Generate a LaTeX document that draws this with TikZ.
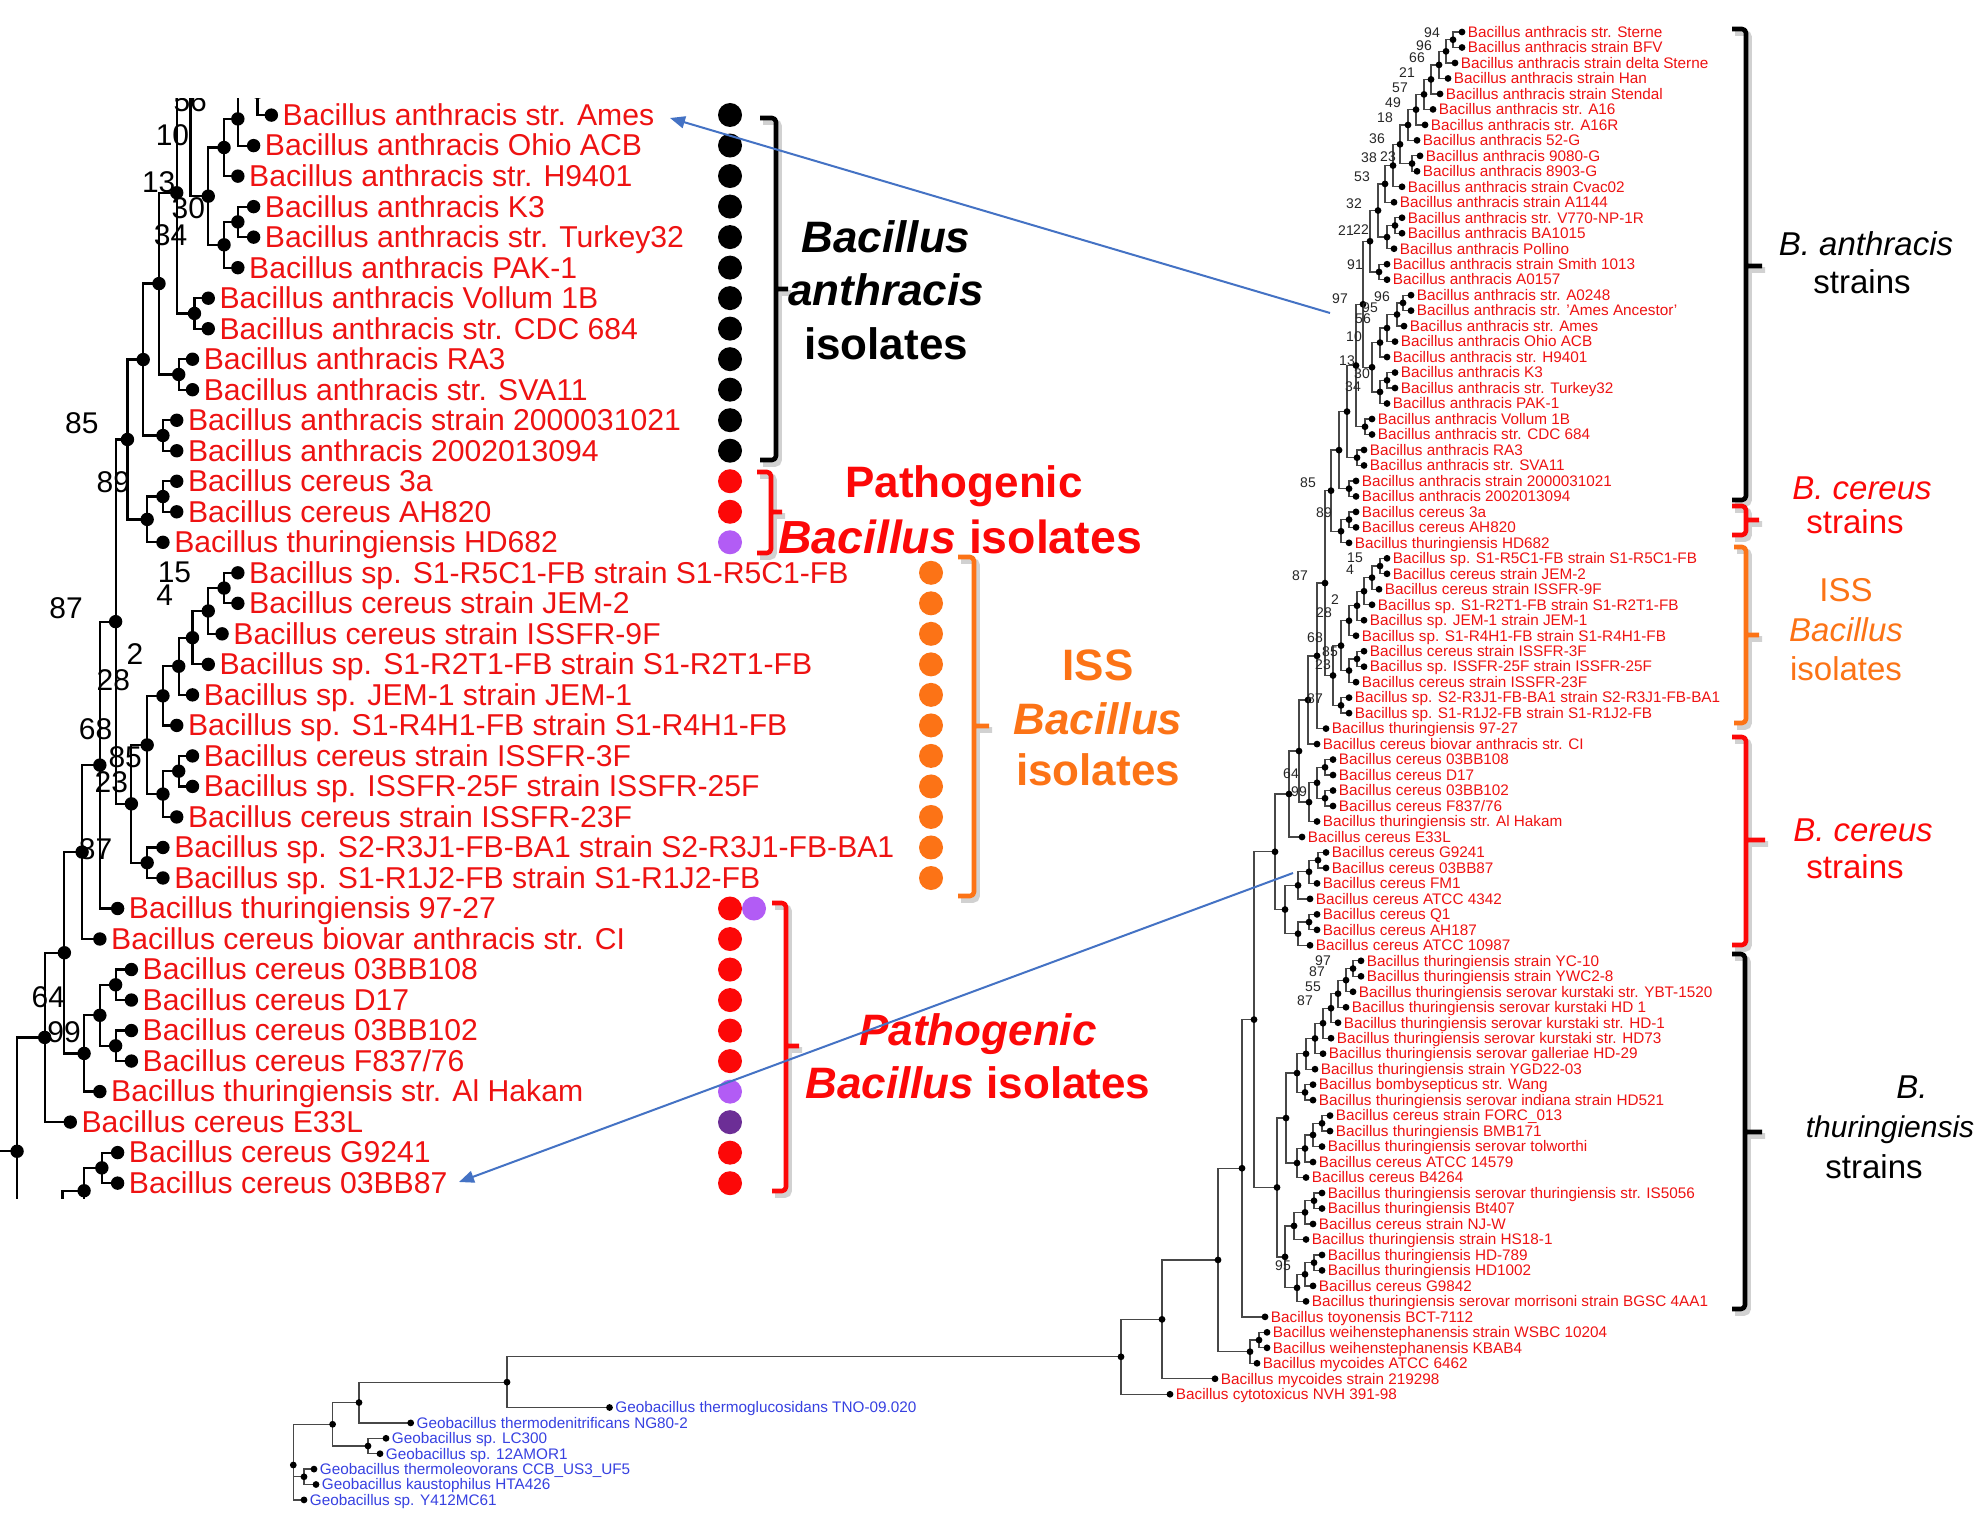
\documentclass[tikz,border=0pt]{standalone}
\usepackage{fontspec}
\setmainfont{Liberation Sans}
\usetikzlibrary{arrows.meta,calc}
\definecolor{treered}{RGB}{238,18,18}
\definecolor{bigred}{RGB}{252,8,8}
\definecolor{geoblue}{RGB}{55,65,225}
\definecolor{issorange}{RGB}{252,115,22}
\definecolor{lpurple}{RGB}{178,92,245}
\definecolor{dpurple}{RGB}{108,46,150}
\definecolor{arrblue}{RGB}{68,114,196}

\newif\ifLcopy
\newif\ifLshow

\tikzset{
  branch/.style={draw=black!72, line width=0.65pt},
  tdot/.style={circle, fill=black, inner sep=0pt, minimum size=3.4pt},
  leaftxt/.style={font=\fontsize{7.65pt}{9pt}\selectfont, text=treered, inner sep=0pt, anchor=base west},
  bslab/.style={font=\fontsize{7pt}{8pt}\selectfont, text=black!85, inner sep=0pt},
  cdot/.style={circle, inner sep=0pt, minimum size=12pt, draw=none},
  brk/.style={line width=2.3pt, rounded corners=2pt, line join=round},
  brkshadow/.style={line width=2.8pt, rounded corners=2pt, draw=black, opacity=0.18},
  biglab/.style={font=\fontsize{22pt}{26pt}\selectfont\bfseries, inner sep=0pt, anchor=base},
  sidelab/.style={font=\fontsize{16.5pt}{19pt}\selectfont, inner sep=0pt, anchor=base},
  bluearr/.style={draw=arrblue, line width=1pt, -{Triangle[length=7.5pt,width=6pt]}}
}

% leaf: name, row, x, text
\newcommand\TLeaf[4]{%
  \pgfmathsetmacro\tyv{32+(#2-1)*15.48}%
  \expandafter\xdef\csname tyy-#1\endcsname{\tyv}%
  \expandafter\xdef\csname txx-#1\endcsname{#3}%
  \pgfmathsetmacro\txv{#3+5.5}\pgfmathsetmacro\tyb{\tyv+5.3}%
  \coordinate (#1) at (#3,\tyv);%
  \Lshowtrue
  \ifLcopy\ifnum#2<20 \Lshowfalse\fi\ifnum#2>55 \Lshowfalse\fi\fi
  \ifLshow\node[leaftxt] (#1t) at (\txv,\tyb) {#4};\fi
}
% leaf with explicit y
\newcommand\GLeaf[4]{%
  \expandafter\xdef\csname tyy-#1\endcsname{#3}%
  \expandafter\xdef\csname txx-#1\endcsname{#2}%
  \pgfmathsetmacro\txv{#2+5.5}\pgfmathsetmacro\tyb{#3+5.3}%
  \coordinate (#1) at (#2,#3);%
  \node[leaftxt, text=geoblue] (#1t) at (\txv,\tyb) {#4};%
}
% internal node: name, x, child1, child2
\newcommand\TNode[4]{%
  \edef\tmpa{\csname tyy-#3\endcsname}\edef\tmpb{\csname tyy-#4\endcsname}%
  \pgfmathsetmacro\tyv{(\tmpa+\tmpb)/2}%
  \expandafter\xdef\csname tyy-#1\endcsname{\tyv}%
  \expandafter\xdef\csname txx-#1\endcsname{#2}%
  \coordinate (#1) at (#2,\tyv);%
  \draw[branch] (#3) -| (#1) |- (#4);%
  \node[tdot] at (#3) {};\node[tdot] at (#4) {};%
}
% bootstrap label: node, text, dx, dy
\newcommand\TBoot[4]{%
  \edef\tmpa{\csname txx-#1\endcsname}\edef\tmpb{\csname tyy-#1\endcsname}%
  \pgfmathsetmacro\bxv{\tmpa+(#3)}\pgfmathsetmacro\byv{\tmpb+(#4)}%
  \Lshowtrue
  \ifLcopy\pgfmathtruncatemacro\bvis{(\byv>312)&&(\byv<880)}\ifnum\bvis=0 \Lshowfalse\fi\fi
  \ifLshow\node[bslab] (#1b) at (\bxv,\byv) {#2};\fi
}
% bracket: color, xleft, xvert, ytop, ybot, ytick, xtick
\newcommand\Brkt[7]{%
  \draw[brkshadow, shift={(3,4)}] (#2,#4) -- (#3,#4) -- (#3,#5) -- (#2,#5) (#3,#6) -- (#7,#6);%
  \draw[brk, draw=#1] (#2,#4) -- (#3,#4) -- (#3,#5) -- (#2,#5) (#3,#6) -- (#7,#6);%
}

\newcommand\BacTree{%
\TLeaf{r1}{1}{1462}{Bacillus anthracis str. Sterne}
\TLeaf{r2}{2}{1462}{Bacillus anthracis strain BFV}
\TLeaf{r3}{3}{1455}{Bacillus anthracis strain delta Sterne}
\TLeaf{r4}{4}{1448}{Bacillus anthracis strain Han}
\TLeaf{r5}{5}{1440}{Bacillus anthracis strain Stendal}
\TLeaf{r6}{6}{1433}{Bacillus anthracis str. A16}
\TLeaf{r7}{7}{1425}{Bacillus anthracis str. A16R}
\TLeaf{r8}{8}{1417}{Bacillus anthracis 52-G}
\TLeaf{r9}{9}{1420}{Bacillus anthracis 9080-G}
\TLeaf{r10}{10}{1417}{Bacillus anthracis 8903-G}
\TLeaf{r11}{11}{1402}{Bacillus anthracis strain Cvac02}
\TLeaf{r12}{12}{1394}{Bacillus anthracis strain A1144}
\TLeaf{r13}{13}{1402}{Bacillus anthracis str. V770-NP-1R}
\TLeaf{r14}{14}{1402}{Bacillus anthracis BA1015}
\TLeaf{r15}{15}{1394}{Bacillus anthracis Pollino}
\TLeaf{r16}{16}{1387}{Bacillus anthracis strain Smith 1013}
\TLeaf{r17}{17}{1387}{Bacillus anthracis A0157}
\TLeaf{r18}{18}{1411}{Bacillus anthracis str. A0248}
\TLeaf{r19}{19}{1411}{Bacillus anthracis str. 'Ames Ancestor'}
\TLeaf{r20}{20}{1404}{Bacillus anthracis str. Ames}
\TLeaf{r21}{21}{1395}{Bacillus anthracis Ohio ACB}
\TLeaf{r22}{22}{1387}{Bacillus anthracis str. H9401}
\TLeaf{r23}{23}{1395}{Bacillus anthracis K3}
\TLeaf{r24}{24}{1395}{Bacillus anthracis str. Turkey32}
\TLeaf{r25}{25}{1387}{Bacillus anthracis PAK-1}
\TLeaf{r26}{26}{1372}{Bacillus anthracis Vollum 1B}
\TLeaf{r27}{27}{1372}{Bacillus anthracis str. CDC 684}
\TLeaf{r28}{28}{1364}{Bacillus anthracis RA3}
\TLeaf{r29}{29}{1364}{Bacillus anthracis str. SVA11}
\TLeaf{r30}{30}{1356}{Bacillus anthracis strain 2000031021}
\TLeaf{r31}{31}{1356}{Bacillus anthracis 2002013094}
\TLeaf{r32}{32}{1356}{Bacillus cereus 3a}
\TLeaf{r33}{33}{1356}{Bacillus cereus AH820}
\TLeaf{r34}{34}{1349}{Bacillus thuringiensis HD682}
\TLeaf{r35}{35}{1387}{Bacillus sp. S1-R5C1-FB strain S1-R5C1-FB}
\TLeaf{r36}{36}{1387}{Bacillus cereus strain JEM-2}
\TLeaf{r37}{37}{1379}{Bacillus cereus strain ISSFR-9F}
\TLeaf{r38}{38}{1372}{Bacillus sp. S1-R2T1-FB strain S1-R2T1-FB}
\TLeaf{r39}{39}{1364}{Bacillus sp. JEM-1 strain JEM-1}
\TLeaf{r40}{40}{1356}{Bacillus sp. S1-R4H1-FB strain S1-R4H1-FB}
\TLeaf{r41}{41}{1364}{Bacillus cereus strain ISSFR-3F}
\TLeaf{r42}{42}{1364}{Bacillus sp. ISSFR-25F strain ISSFR-25F}
\TLeaf{r43}{43}{1356}{Bacillus cereus strain ISSFR-23F}
\TLeaf{r44}{44}{1349}{Bacillus sp. S2-R3J1-FB-BA1 strain S2-R3J1-FB-BA1}
\TLeaf{r45}{45}{1349}{Bacillus sp. S1-R1J2-FB strain S1-R1J2-FB}
\TLeaf{r46}{46}{1326}{Bacillus thuringiensis 97-27}
\TLeaf{r47}{47}{1317}{Bacillus cereus biovar anthracis str. CI}
\TLeaf{r48}{48}{1333}{Bacillus cereus 03BB108}
\TLeaf{r49}{49}{1333}{Bacillus cereus D17}
\TLeaf{r50}{50}{1333}{Bacillus cereus 03BB102}
\TLeaf{r51}{51}{1333}{Bacillus cereus F837/76}
\TLeaf{r52}{52}{1317}{Bacillus thuringiensis str. Al Hakam}
\TLeaf{r53}{53}{1302}{Bacillus cereus E33L}
\TLeaf{r54}{54}{1326}{Bacillus cereus G9241}
\TLeaf{r55}{55}{1326}{Bacillus cereus 03BB87}
\TLeaf{r56}{56}{1317}{Bacillus cereus FM1}
\TLeaf{r57}{57}{1310}{Bacillus cereus ATCC 4342}
\TLeaf{r58}{58}{1317}{Bacillus cereus Q1}
\TLeaf{r59}{59}{1317}{Bacillus cereus AH187}
\TLeaf{r60}{60}{1310}{Bacillus cereus ATCC 10987}
\TLeaf{r61}{61}{1361}{Bacillus thuringiensis strain YC-10}
\TLeaf{r62}{62}{1361}{Bacillus thuringiensis strain YWC2-8}
\TLeaf{r63}{63}{1353}{Bacillus thuringiensis serovar kurstaki str. YBT-1520}
\TLeaf{r64}{64}{1346}{Bacillus thuringiensis serovar kurstaki HD 1}
\TLeaf{r65}{65}{1338}{Bacillus thuringiensis serovar kurstaki str. HD-1}
\TLeaf{r66}{66}{1331}{Bacillus thuringiensis serovar kurstaki str. HD73}
\TLeaf{r67}{67}{1323}{Bacillus thuringiensis serovar galleriae HD-29}
\TLeaf{r68}{68}{1315}{Bacillus thuringiensis strain YGD22-03}
\TLeaf{r69}{69}{1313}{Bacillus bombysepticus str. Wang}
\TLeaf{r70}{70}{1313}{Bacillus thuringiensis serovar indiana strain HD521}
\TLeaf{r71}{71}{1330}{Bacillus cereus strain FORC\_013}
\TLeaf{r72}{72}{1330}{Bacillus thuringiensis BMB171}
\TLeaf{r73}{73}{1322}{Bacillus thuringiensis serovar tolworthi}
\TLeaf{r74}{74}{1313}{Bacillus cereus ATCC 14579}
\TLeaf{r75}{75}{1306}{Bacillus cereus B4264}
\TLeaf{r76}{76}{1322}{Bacillus thuringiensis serovar thuringiensis str. IS5056}
\TLeaf{r77}{77}{1322}{Bacillus thuringiensis Bt407}
\TLeaf{r78}{78}{1313}{Bacillus cereus strain NJ-W}
\TLeaf{r79}{79}{1306}{Bacillus thuringiensis strain HS18-1}
\TLeaf{r80}{80}{1322}{Bacillus thuringiensis HD-789}
\TLeaf{r81}{81}{1322}{Bacillus thuringiensis HD1002}
\TLeaf{r82}{82}{1313}{Bacillus cereus G9842}
\TLeaf{r83}{83}{1306}{Bacillus thuringiensis serovar morrisoni strain BGSC 4AA1}
\TLeaf{r84}{84}{1265}{Bacillus toyonensis BCT-7112}
\TLeaf{r85}{85}{1267}{Bacillus weihenstephanensis strain WSBC 10204}
\TLeaf{r86}{86}{1267}{Bacillus weihenstephanensis KBAB4}
\TLeaf{r87}{87}{1257}{Bacillus mycoides ATCC 6462}
\TLeaf{r88}{88}{1215}{Bacillus mycoides strain 219298}
\TLeaf{r89}{89}{1170}{Bacillus cytotoxicus NVH 391-98}
\TNode{qa1}{1453}{r1}{r2}
\TNode{qa2}{1446}{qa1}{r3}
\TNode{qa3}{1439}{qa2}{r4}
\TNode{qa4}{1431}{qa3}{r5}
\TNode{qa5}{1424}{qa4}{r6}
\TNode{qa6}{1416}{qa5}{r7}
\TNode{qa7}{1408}{qa6}{r8}
\TNode{qa8}{1412}{r9}{r10}
\TNode{qa9}{1400}{qa7}{qa8}
\TNode{qa10}{1393}{qa9}{r11}
\TNode{qa11}{1385}{qa10}{r12}
\TNode{qa12}{1395}{r13}{r14}
\TNode{qa13}{1387}{qa12}{r15}
\TNode{qa14}{1378}{qa11}{qa13}
\TNode{qa15}{1379}{r16}{r17}
\TNode{qa16}{1370}{qa14}{qa15}
\TNode{qb1}{1403}{r18}{r19}
\TNode{qb2}{1397}{qb1}{r20}
\TNode{qb3}{1387}{qb2}{r21}
\TNode{qb4}{1380}{qb3}{r22}
\TNode{qb5}{1387}{r23}{r24}
\TNode{qb6}{1380}{qb5}{r25}
\TNode{qAB}{1372}{qb4}{qb6}
\TNode{qP1}{1363}{qa16}{qAB}
\TNode{qVC}{1365}{r26}{r27}
\TNode{qC1}{1356}{qP1}{qVC}
\TNode{qRS}{1357}{r28}{r29}
\TNode{qC2}{1347}{qC1}{qRS}
\TNode{qTT}{1349}{r30}{r31}
\TNode{qC3}{1339}{qC2}{qTT}
\TNode{qCA}{1349}{r32}{r33}
\TNode{qCB}{1341}{qCA}{r34}
\TNode{qC4}{1331}{qC3}{qCB}
\TNode{qd1}{1380}{r35}{r36}
\TNode{qd2}{1372}{qd1}{r37}
\TNode{qd3}{1364}{qd2}{r38}
\TNode{qd4}{1357}{qd3}{r39}
\TNode{qd5}{1349}{qd4}{r40}
\TNode{qe1}{1357}{r41}{r42}
\TNode{qe2}{1349}{qe1}{r43}
\TNode{qf}{1341}{qd5}{qe2}
\TNode{qg1}{1341}{r44}{r45}
\TNode{qg}{1333}{qf}{qg1}
\TNode{qN}{1325}{qC4}{qg}
\TNode{qh}{1317}{qN}{r46}
\TNode{qi}{1308}{qh}{r47}
\TNode{qm1}{1325}{r48}{r49}
\TNode{qm2}{1325}{r50}{r51}
\TNode{qm}{1317}{qm1}{qm2}
\TNode{qk}{1309}{qm}{r52}
\TNode{qj}{1299}{qi}{qk}
\TNode{ql}{1289}{qj}{r53}
\TNode{qo1}{1318}{r54}{r55}
\TNode{qo2}{1309}{qo1}{r56}
\TNode{qo3}{1298}{qo2}{r57}
\TNode{qp1}{1309}{r58}{r59}
\TNode{qp2}{1298}{qp1}{r60}
\TNode{qS}{1285}{qo3}{qp2}
\TNode{qn}{1275}{ql}{qS}
\TNode{qt1}{1353}{r61}{r62}
\TNode{qt2}{1346}{qt1}{r63}
\TNode{qt3}{1338}{qt2}{r64}
\TNode{qt4}{1331}{qt3}{r65}
\TNode{qt5}{1323}{qt4}{r66}
\TNode{qt6}{1315}{qt5}{r67}
\TNode{qt7}{1306}{qt6}{r68}
\TNode{qu1}{1305}{r69}{r70}
\TNode{qt8}{1297}{qt7}{qu1}
\TNode{qv1}{1322}{r71}{r72}
\TNode{qv2}{1313}{qv1}{r73}
\TNode{qv3}{1305}{qv2}{r74}
\TNode{qv4}{1297}{qv3}{r75}
\TNode{qT}{1286}{qt8}{qv4}
\TNode{qx1}{1314}{r76}{r77}
\TNode{qx2}{1305}{qx1}{r78}
\TNode{qx3}{1294}{qx2}{r79}
\TNode{qy1}{1314}{r80}{r81}
\TNode{qy2}{1305}{qy1}{r82}
\TNode{qy3}{1297}{qy2}{r83}
\TNode{qx4}{1285}{qx3}{qy3}
\TNode{qw}{1277}{qT}{qx4}
\TNode{qz2}{1254}{qn}{qw}
\TNode{qz1}{1242}{qz2}{r84}
\TNode{qWK}{1259}{r85}{r86}
\TNode{qWM}{1250}{qWK}{r87}
\TNode{qz3}{1218}{qz1}{qWM}
\TNode{qz4}{1162}{qz3}{r88}
\TNode{qz5}{1121}{qz4}{r89}
\TBoot{qa1}{94}{-21}{-7}
\TBoot{qa2}{96}{-22}{-6}
\TBoot{qa3}{66}{-22}{-7}
\TBoot{qa4}{21}{-24}{-7}
\TBoot{qa5}{57}{-24}{-7}
\TBoot{qa6}{49}{-23}{-7}
\TBoot{qa7}{18}{-23}{-7}
\TBoot{qa9}{36}{-23}{-6}
\TBoot{qa10}{38}{-24}{-8}
\TBoot{qa8}{23}{-24}{-7}
\TBoot{qa11}{53}{-23}{-7}
\TBoot{qa14}{32}{-24}{-7}
\TBoot{qa13}{22}{-26}{-7}
\TBoot{qa16}{21}{-24}{-11}
\TBoot{qa15}{91}{-24}{-7}
\TBoot{qP1}{97}{-23}{-6}
\TBoot{qb1}{96}{-21}{-6}
\TBoot{qb2}{95}{-27}{-7}
\TBoot{qb3}{56}{-24}{-9}
\TBoot{qb4}{10}{-26}{-6}
\TBoot{qAB}{13}{-25}{-7}
\TBoot{qb5}{30}{-25}{-7}
\TBoot{qb6}{34}{-27}{-5}
\TBoot{qC4}{85}{-23}{-8}
\TBoot{qCA}{89}{-25}{-7}
\TBoot{qN}{87}{-25}{-7}
\TBoot{qd1}{15}{-25}{-8}
\TBoot{qd2}{4}{-22}{-8}
\TBoot{qd4}{2}{-22}{-6}
\TBoot{qd5}{28}{-25}{-8}
\TBoot{qf}{68}{-26}{-8}
\TBoot{qe1}{85}{-27}{-7}
\TBoot{qe2}{23}{-26}{-6}
\TBoot{qg1}{87}{-26}{-7}
\TBoot{qm}{64}{-26}{-9}
\TBoot{qm2}{99}{-26}{-7}
\TBoot{qt1}{97}{-30}{-8}
\TBoot{qt2}{87}{-29}{-8}
\TBoot{qt3}{55}{-25}{-7}
\TBoot{qt4}{87}{-26}{-8}
\TBoot{qx4}{95}{-2}{9}
}

\begin{document}
\begin{tikzpicture}[x=0.5pt, y=-0.5pt]
\fill[white] (0,0) rectangle (1984,1519);
\useasboundingbox (0,0) rectangle (1984,1519);

% ---------- full tree (right) ----------
\BacTree
% Geobacillus outgroup
\GLeaf{g1}{609.5}{1407.5}{Geobacillus thermoglucosidans TNO-09.020}
\GLeaf{g2}{410.7}{1422.9}{Geobacillus thermodenitrificans NG80-2}
\GLeaf{g3}{386}{1438.3}{Geobacillus sp. LC300}
\GLeaf{g4}{380}{1453.7}{Geobacillus sp. 12AMOR1}
\GLeaf{g5}{314}{1469.1}{Geobacillus thermoleovorans CCB\_US3\_UF5}
\GLeaf{g6}{316}{1484.5}{Geobacillus kaustophilus HTA426}
\GLeaf{g7}{304}{1499.9}{Geobacillus sp. Y412MC61}
\TNode{qR}{507}{qz5}{g1}
\TNode{qG1}{359}{qR}{g2}
\TNode{qG2}{368}{g3}{g4}
\TNode{qG3}{332.6}{qG1}{qG2}
\TNode{qG4}{304}{g5}{g6}
\coordinate (qGr) at (293.3,1465);
\draw[branch] (qG3) -| (qGr) |- (g7);
\draw[branch] (qGr) |- (qG4);
\node[tdot] at (qG3) {};\node[tdot] at (qG4) {};\node[tdot] at (g7) {};\node[tdot] at (qGr) {};

% ---------- magnified excerpt (left) ----------
\begin{scope}
\clip (0,99) rectangle (1010,1198);
\begin{scope}[name prefix=L, shift={(70,115)}, scale=1.971, shift={(-1302,-326.1)}, transform shape,
   branch/.style={draw=black, line width=1.1pt}, bslab/.style={font=\fontsize{7.6pt}{8pt}\selectfont, text=black, inner sep=0pt}]
\Lcopytrue
\BacTree
\end{scope}
\end{scope}

% colored markers
\foreach \k in {0,...,11} {\node[cdot, fill=black] (cdA\k) at (730,{115+\k*30.52}) {};}
\foreach \k in {12,13,26,27,28,29,30,31,34,35} {\node[cdot, fill=bigred] (cdA\k) at (730,{115+\k*30.52}) {};}
\foreach \k in {14,32} {\node[cdot, fill=lpurple] (cdA\k) at (730,{115+\k*30.52}) {};}
\node[cdot, fill=dpurple] (cdA33) at (730,{115+33*30.52}) {};
\node[cdot, fill=lpurple] (cdB26) at (754,{115+26*30.52}) {};
\foreach \k in {15,...,25} {\node[cdot, fill=issorange] (cdO\k) at (931,{115+\k*30.52}) {};}

% brackets, left
\Brkt{black}{760}{776}{118}{460}{289}{788}
\Brkt{bigred}{757}{771}{472}{553}{512}{782}
\Brkt{issorange}{958}{974}{557}{896}{726}{989}
\Brkt{bigred}{772}{786}{903}{1191}{1046}{799}
% brackets, right
\Brkt{black}{1732}{1746}{29}{500}{266}{1762}
\Brkt{bigred}{1732}{1746}{506}{535}{520}{1759}
\Brkt{issorange}{1734}{1746}{547}{723}{635}{1759}
\Brkt{bigred}{1732}{1746}{737}{945}{840}{1765}
\Brkt{black}{1732}{1745}{954}{1309}{1132}{1762}

% big labels, left
\node[biglab] (la1) at (886,253) {\itshape Bacillus};
\node[biglab] (la2) at (886,306) {\itshape anthracis};
\node[biglab] (la3) at (886,359) {isolates};
\node[biglab, text=bigred] (lb1) at (964,497) {Pathogenic};
\node[biglab, text=bigred, font=\fontsize{23.2pt}{26pt}\selectfont\bfseries] (lb2) at (960,553) {\textit{Bacillus} isolates};
\node[biglab, text=issorange] (lc1) at (1098,680) {ISS};
\node[biglab, text=issorange] (lc2) at (1098,734) {\itshape Bacillus};
\node[biglab, text=issorange] (lc3) at (1098,785) {isolates};
\node[biglab, text=bigred] (ld1) at (978,1045) {\itshape Pathogenic};
\node[biglab, text=bigred] (ld2) at (978,1098) {\textit{Bacillus} isolates};

% labels, right
\node[sidelab] (ra1) at (1866,256) {\itshape B. anthracis};
\node[sidelab] (ra2) at (1862,294) {strains};
\node[sidelab, text=bigred] (rb1) at (1862,499) {\itshape B. cereus};
\node[sidelab, text=bigred] (rb2) at (1855,533) {strains};
\node[sidelab, text=issorange] (rc1) at (1846,601) {ISS};
\node[sidelab, text=issorange] (rc2) at (1846,641) {\itshape Bacillus};
\node[sidelab, text=issorange] (rc3) at (1846,680) {isolates};
\node[sidelab, text=bigred] (rd1) at (1863,841) {\itshape B. cereus};
\node[sidelab, text=bigred] (rd2) at (1855,878) {strains};
\node[sidelab] (re1) at (1912,1098) {\itshape B.};
\node[sidelab, font=\fontsize{15pt}{18pt}\selectfont\itshape] (re2) at (1890,1137) {thuringiensis};
\node[sidelab] (re3) at (1874,1178) {strains};

% zoom arrows
\coordinate (arrAs) at (1330,313);
\coordinate (arrAe) at (670,118);
\draw[bluearr] (arrAs) -- (arrAe);
\coordinate (arrBs) at (1293,873);
\coordinate (arrBe) at (459,1182);
\draw[bluearr] (arrBs) -- (arrBe);
\end{tikzpicture}
\end{document}
